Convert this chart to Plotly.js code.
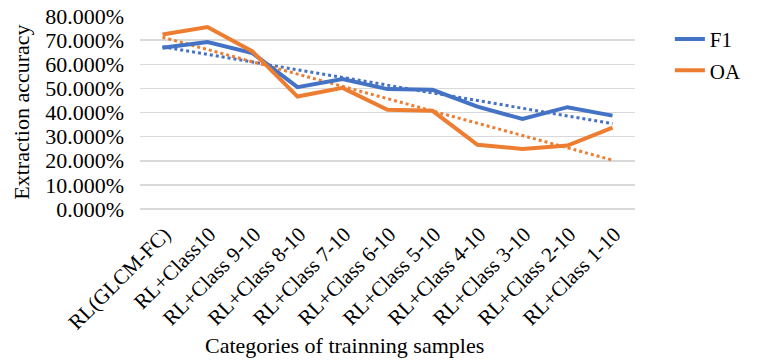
<!DOCTYPE html>
<html>
<head>
<meta charset="utf-8">
<script src="https://cdn.plot.ly/plotly-3.0.1.min.js"></script>
<style>html,body{margin:0;padding:0;background:#fff;}#chart{width:759px;height:362px;}</style>
</head>
<body>
<div id="chart"></div>
<script>
const categories = ["RL(GLCM-FC)", "RL+Class10", "RL+Class 9-10", "RL+Class 8-10", "RL+Class 7-10",
  "RL+Class 6-10", "RL+Class 5-10", "RL+Class 4-10", "RL+Class 3-10", "RL+Class 2-10", "RL+Class 1-10"];
const f1 = [0.668, 0.692, 0.646, 0.505, 0.539, 0.497, 0.494, 0.424, 0.373, 0.422, 0.387];
const oa = [0.723, 0.754, 0.653, 0.466, 0.502, 0.411, 0.407, 0.266, 0.249, 0.263, 0.337];
const yTicks = [0, 0.1, 0.2, 0.3, 0.4, 0.5, 0.6, 0.7, 0.8];

// Linear trendline (least squares) as drawn by the original chart
function trend(vals) {
  const n = vals.length;
  const xs = vals.map((_, i) => i);
  const mx = xs.reduce((a, b) => a + b, 0) / n;
  const my = vals.reduce((a, b) => a + b, 0) / n;
  let sxy = 0, sxx = 0;
  for (let i = 0; i < n; i++) { sxy += (xs[i] - mx) * (vals[i] - my); sxx += (xs[i] - mx) ** 2; }
  const b = sxy / sxx, a = my - b * mx;
  return xs.map(x => a + b * x);
}

const blue = "#4472C4", orange = "#ED7D31";
const font = "Liberation Serif";

const traces = [
  {x: categories, y: trend(f1), type: "scatter", mode: "lines", showlegend: false, hoverinfo: "skip",
   line: {color: blue, width: 3, dash: "dot"}},
  {x: categories, y: trend(oa), type: "scatter", mode: "lines", showlegend: false, hoverinfo: "skip",
   line: {color: orange, width: 3, dash: "dot"}},
  {x: categories, y: f1, type: "scatter", mode: "lines", name: "F1", legendgroup: "f1", line: {color: blue, width: 4}},
  {x: categories, y: oa, type: "scatter", mode: "lines", name: "OA", legendgroup: "oa", line: {color: orange, width: 4}}
];

const layout = {
  width: 759, height: 362,
  margin: {l: 140, r: 116, t: 16, b: 153},
  paper_bgcolor: "#fff", plot_bgcolor: "#fff",
  font: {family: font, color: "#000", size: 21},
  showlegend: true,
  legend: {x: 1.226, y: 0.985, xanchor: "right", yanchor: "top", font: {family: font, size: 21, color: "#000"},
           tracegroupgap: 1, bgcolor: "rgba(0,0,0,0)"},
  xaxis: {type: "category", tickangle: -45, showgrid: false, zeroline: false, showline: false, ticks: "",
          ticklabelstandoff: 8, ticklabelshift: 2,
          tickfont: {family: font, size: 21, color: "#000"}, range: [-0.5, 10.5]},
  yaxis: {range: [0, 0.8], tickvals: yTicks, tickformat: ".3%", showgrid: true, gridcolor: "#D9D9D9", gridwidth: 1.5,
          zeroline: true, zerolinecolor: "#D9D9D9", zerolinewidth: 1.5, showline: false, ticks: "",
          ticklabelstandoff: 15, tickfont: {family: font, size: 22, color: "#000"}},
  annotations: [
    {text: "Extraction accuracy", xref: "paper", yref: "paper", x: -0.24, y: 0.5, xanchor: "center", yanchor: "middle",
     textangle: -90, showarrow: false, font: {family: font, size: 22, color: "#000"}},
    {text: "Categories of trainning samples", xref: "paper", yref: "paper", x: 0.414, y: -0.705, xanchor: "center", yanchor: "middle",
     showarrow: false, font: {family: font, size: 22, color: "#000"}}
  ]
};

Plotly.newPlot("chart", traces, layout, {displayModeBar: false, staticPlot: true});
</script>
</body>
</html>
